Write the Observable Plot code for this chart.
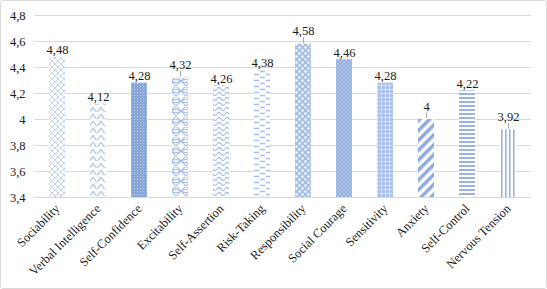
<!DOCTYPE html>
<html><head><meta charset="utf-8">
<script src="https://cdn.jsdelivr.net/npm/d3@7"></script>
<script src="https://cdn.jsdelivr.net/npm/@observablehq/plot@0.6"></script>
<style>
html,body{margin:0;padding:0;background:#fff;}
#frame{width:547px;height:289px;box-sizing:border-box;border:1px solid #d9d9d9;border-radius:3px;overflow:hidden;background:#fff;}
#frame svg, #frame svg text{font-family:"Liberation Serif","Times New Roman",serif !important;}
</style></head><body>
<svg width="0" height="0" style="position:absolute">
<defs>
<pattern id="pat0" width="6" height="6" patternUnits="userSpaceOnUse"><rect width="6" height="6" fill="#fff"/><path d="M0,3L3,0L6,3L3,6Z" fill="none" stroke="#c5d4ee" stroke-width="1"/><circle cx="3" cy="3" r="0.8" fill="#dbe4f4"/></pattern>
<pattern id="pat1" width="8" height="7" patternUnits="userSpaceOnUse"><rect width="8" height="7" fill="#fff"/><path d="M0.5,6L4,1.5L7.5,6" fill="none" stroke="#a9bfe6" stroke-width="1.2"/></pattern>
<pattern id="pat2" width="3" height="3" patternUnits="userSpaceOnUse"><rect width="3" height="3" fill="#8aa7da"/><rect x="1" y="1" width="1" height="1" fill="#b9cbeb"/></pattern>
<pattern id="pat3" width="10" height="10" patternUnits="userSpaceOnUse"><rect width="10" height="10" fill="#fff"/><path d="M0,0Q5,3 10,0M0,10Q5,7 10,10M0,0L10,10M10,0L0,10" fill="none" stroke="#a9bfe6" stroke-width="1.2"/></pattern>
<pattern id="pat4" width="8" height="5" patternUnits="userSpaceOnUse"><rect width="8" height="5" fill="#fff"/><path d="M0,3Q2,0 4,3T8,3" fill="none" stroke="#a9bfe6" stroke-width="1.3"/></pattern>
<pattern id="pat5" width="12" height="6" patternUnits="userSpaceOnUse"><rect width="12" height="6" fill="#fff"/><path d="M1,1.5H6M7,4.5H12" fill="none" stroke="#a9bfe6" stroke-width="1.5"/></pattern>
<pattern id="pat6" width="6" height="6" patternUnits="userSpaceOnUse"><rect width="6" height="6" fill="#a9bfe6"/><circle cx="1.5" cy="1.5" r="1.2" fill="#fff"/><circle cx="4.5" cy="4.5" r="1.2" fill="#fff"/></pattern>
<pattern id="pat7" width="4" height="4" patternUnits="userSpaceOnUse"><rect width="4" height="4" fill="#b4c7e7"/><rect width="2" height="2" fill="#8faadc"/><rect x="2" y="2" width="2" height="2" fill="#8faadc"/></pattern>
<pattern id="pat8" width="4" height="4" patternUnits="userSpaceOnUse"><rect width="4" height="4" fill="#a9bfe6"/><path d="M0,0.5H4M0.5,0V4" stroke="#d6e0f3" stroke-width="1"/></pattern>
<pattern id="pat9" width="7" height="7" patternUnits="userSpaceOnUse" patternTransform="rotate(45)"><rect width="7" height="7" fill="#fff"/><rect width="3.5" height="7" fill="#8faadc"/></pattern>
<pattern id="pat10" width="4" height="4" patternUnits="userSpaceOnUse"><rect width="4" height="4" fill="#fff"/><rect width="4" height="2" fill="#9ab3e0"/></pattern>
<pattern id="pat11" width="4" height="4" patternUnits="userSpaceOnUse"><rect width="4" height="4" fill="#fff"/><rect width="1.6" height="4" fill="#9ab3e0"/></pattern>
</defs></svg>
<div id="frame"></div>
<script>
const categories = ["Sociability","Verbal Intelligence","Self-Confidence","Excitability","Self-Assertion","Risk-Taking","Responsibility","Social Courage","Sensitivity","Anxiety","Self-Control","Nervous Tension"];
const values = [4.48,4.12,4.28,4.32,4.26,4.38,4.58,4.46,4.28,4,4.22,3.92];
const yTicks = [3.4,3.6,3.8,4,4.2,4.4,4.6,4.8];
const leaderLabels = ["Excitability","Responsibility","Anxiety","Nervous Tension"];

const yMin = yTicks[0], yMax = yTicks[yTicks.length - 1];
const fmt = d => String(d).replace(".", ",");
const data = categories.map((c, i) => ({c, v: values[i], fill: `url(#pat${i})`, leader: leaderLabels.includes(c)}));
const font = "Liberation Serif, Times New Roman, serif";

const chart = Plot.plot({
  width: 545,
  height: 287,
  marginLeft: 33,
  marginRight: 15,
  marginTop: 14,
  marginBottom: 91,
  style: "font-family: 'Liberation Serif', 'Times New Roman', serif; font-size: 12.5px; color: #1a1a1a; background: #fff;",
  x: {domain: categories, paddingInner: 0.6, paddingOuter: 0.3, label: null, tickSize: 0, tickRotate: -45, tickPadding: 9},
  y: {domain: [yMin, yMax], ticks: yTicks, tickFormat: fmt, tickSize: 0, tickPadding: 9, label: null},
  color: {type: "identity"},
  marks: [
    Plot.ruleY(yTicks, {stroke: "#d9d9d9", strokeWidth: 1}),
    Plot.barY(data, {x: "c", y1: yMin, y2: "v", fill: "fill"}),
    Plot.ruleX(data.filter(d => d.leader), {x: "c", y1: d => d.v + 0.005, y2: d => d.v + 0.05, stroke: "#a6a6a6", strokeWidth: 1}),
    Plot.text(data.filter(d => !d.leader), {x: "c", y: "v", text: d => fmt(d.v), fontSize: 12.5, fill: "#1a1a1a", fontFamily: font,
      lineAnchor: "bottom", dy: -3}),
    Plot.text(data.filter(d => d.leader), {x: "c", y: "v", text: d => fmt(d.v), fontSize: 12.5, fill: "#1a1a1a", fontFamily: font,
      lineAnchor: "bottom", dy: -9})
  ]
});
document.getElementById("frame").appendChild(chart);
</script>
</body></html>
